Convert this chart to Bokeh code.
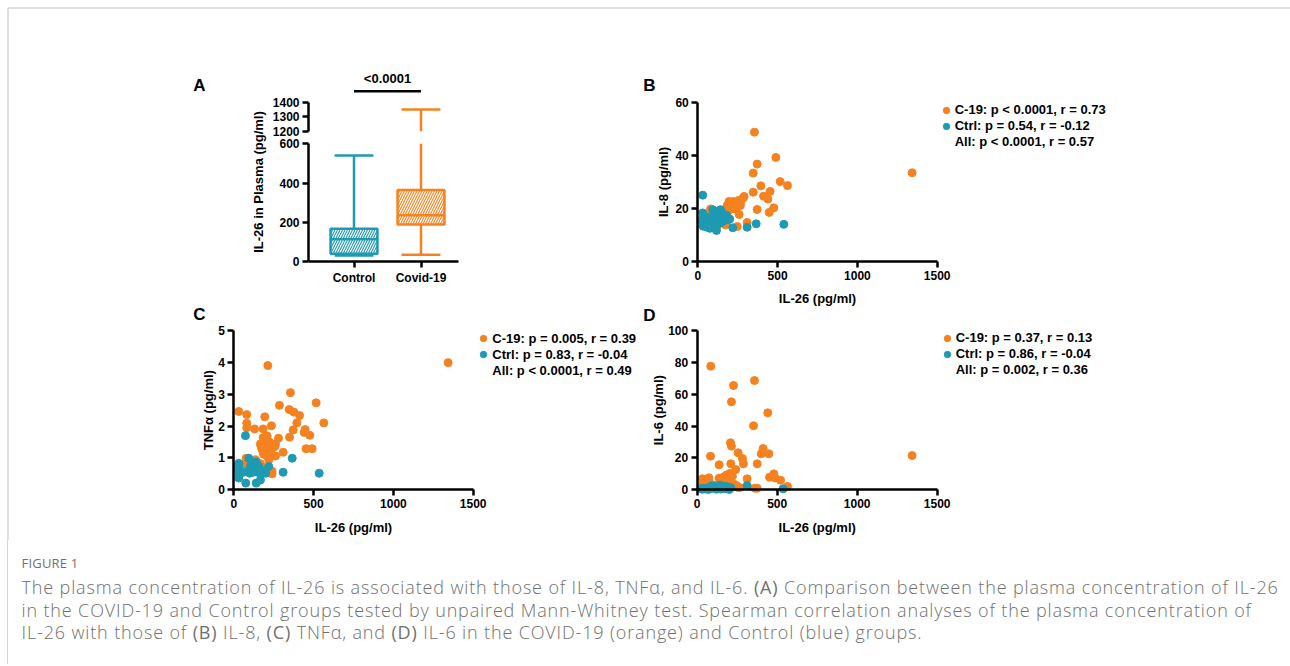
from math import pi
from bokeh.plotting import figure
from bokeh.models import Range1d, LinearAxis, FixedTicker, Label, Legend, LegendItem, Div
from bokeh.layouts import column
from bokeh.embed import file_html
from bokeh.resources import INLINE

# ---------------- data ----------------
groups = ["Control", "Covid-19"]
a_min = [30, 34]
a_q1 = [39, 188]
a_median = [113, 236]
a_q3 = [167, 364]
a_max = [540, 1350]
a_pvalue = "<0.0001"

b_c19_x = [355, 489, 372, 347, 516, 562, 395, 453, 347, 412, 439, 476, 372, 447, 284, 267, 195, 222, 247, 184,
           212, 242, 267, 205, 237, 190, 163, 259, 80, 100, 59, 174, 247, 309, 80, 142, 122, 48, 1343, 230,
           255, 200, 170, 150, 60, 120, 290, 216, 180, 100]
b_c19_y = [48.7, 39.2, 36.7, 33.3, 30.1, 28.6, 28.5, 26.4, 26.1, 24.6, 23.5, 20.2, 19.6, 18.5, 23.9, 22.3, 22.6, 22.6, 22.3, 21.1,
           21.1, 20.7, 21.1, 19.8, 19.8, 18.9, 19.2, 17.7, 19.8, 17.7, 15.4, 13.8, 13.2, 14.7, 14.2, 15.4, 16.7, 17.6, 33.4, 21.5,
           23.0, 20.5, 17.5, 14.5, 13.5, 13.3, 24.5, 20.0, 16.0, 14.8]
b_ctrl_x = [31, 31, 31, 31, 31, 34, 94, 121, 86, 117, 219, 309, 366, 539, 127, 148, 169, 190, 158, 106,
            137, 179, 80, 69, 59, 142, 200, 110, 130, 160, 90, 75, 185, 150]
b_ctrl_y = [25.0, 18.3, 16.1, 14.9, 13.6, 13.3, 19.5, 18.9, 13.2, 11.7, 12.7, 12.9, 14.2, 14.0, 16.7, 16.1, 16.5, 15.7, 15.1, 15.4,
            14.4, 17.4, 15.4, 16.6, 12.9, 19.5, 16.0, 17.5, 15.0, 17.0, 14.0, 12.5, 16.2, 18.5]
b_legend = ["C-19: p < 0.0001, r = 0.73", "Ctrl: p = 0.54, r = -0.12", "All: p < 0.0001, r = 0.57"]

c_c19_x = [1343, 213, 355, 516, 31, 286, 347, 376, 412, 81, 194, 564, 395, 81, 81, 130, 184, 236, 372, 447,
           441, 476, 209, 184, 280, 349, 167, 261, 257, 453, 491, 309, 176, 196, 217, 186, 207, 228, 261, 196,
           223, 170, 232, 77, 75, 136, 167, 176, 240, 240, 88, 172, 194, 219]
c_c19_y = [3.99, 3.90, 3.05, 2.73, 2.46, 2.65, 2.52, 2.44, 2.33, 2.36, 2.29, 2.10, 2.10, 2.09, 1.95, 1.91, 1.91, 2.01, 1.88, 1.89,
           1.80, 1.71, 1.69, 1.64, 1.62, 1.65, 1.44, 1.44, 1.36, 1.29, 1.29, 1.18, 1.27, 1.21, 1.27, 1.12, 1.07, 1.07, 1.06, 1.42,
           1.50, 1.38, 1.17, 0.99, 0.81, 0.94, 0.82, 0.71, 0.58, 0.50, 0.69, 0.69, 0.61, 0.94]
c_ctrl_x = [73, 31, 31, 31, 31, 31, 31, 31, 94, 366, 140, 219, 100, 140, 165, 186, 125, 157, 309, 535,
            75, 140, 167, 110, 120, 150, 176, 200, 90, 105, 130, 60]
c_ctrl_y = [1.70, 0.83, 0.70, 0.58, 0.47, 0.37, 0.76, 0.64, 0.99, 0.99, 0.87, 0.73, 0.52, 0.58, 0.50, 0.55, 0.70, 0.73, 0.55, 0.52,
            0.21, 0.21, 0.31, 0.62, 0.55, 0.65, 0.60, 0.52, 0.60, 0.75, 0.80, 0.55]
c_legend = ["C-19: p = 0.005, r = 0.39", "Ctrl: p = 0.83, r = -0.04", "All: p < 0.0001, r = 0.49"]

d_c19_x = [85, 227, 358, 214, 441, 352, 208, 214, 412, 400, 448, 83, 256, 283, 375, 137, 210, 289, 241, 312,
           33, 73, 137, 166, 183, 204, 452, 479, 487, 521, 564, 33, 245, 266, 360, 375, 146, 190, 175, 230,
           255, 200, 80, 120, 1343, 160, 220]
d_c19_y = [77.6, 65.5, 68.6, 55.2, 48.3, 40.2, 29.5, 27.4, 25.9, 22.6, 22.6, 21.1, 23.2, 19.6, 16.3, 15.7, 16.3, 16.3, 12.7, 6.9,
           6.9, 7.5, 7.3, 8.1, 9.3, 10.3, 7.9, 10.0, 7.4, 6.0, 2.1, 3.8, 2.6, 1.4, 1.0, 1.0, 1.0, 6.0, 4.0, 3.5,
           1.5, 2.0, 4.0, 3.0, 21.5, 5.5, 8.5]
d_ctrl_x = [33, 100, 146, 183, 312, 537, 31, 60, 80, 90, 110, 120, 130, 150, 160, 170, 190, 200, 210, 70,
            140, 175, 50, 95, 125]
d_ctrl_y = [1.0, 2.2, 0.5, 2.0, 2.7, 0.6, 0.3, 1.2, 0.8, 2.5, 1.5, 0.4, 1.8, 1.0, 2.3, 0.6, 0.9, 0.2, 1.3, 0.2,
            2.8, 1.6, 0.5, 1.0, 0.9]
d_legend = ["C-19: p = 0.37, r = 0.13", "Ctrl: p = 0.86, r = -0.04", "All: p = 0.002, r = 0.36"]

x_ticks = [0, 500, 1000, 1500]
b_y_ticks = [0, 20, 40, 60]
c_y_ticks = [0, 1, 2, 3, 4, 5]
d_y_ticks = [0, 20, 40, 60, 80, 100]
a_low_ticks = [0, 200, 400, 600]
a_high_ticks = [1200, 1300, 1400]

caption_title = "FIGURE 1"
caption_lines = [
    "The plasma concentration of IL-26 is associated with those of IL-8, TNF\u03b1, and IL-6. <b>(A)</b> Comparison between the plasma concentration of IL-26",
    "in the COVID-19 and Control groups tested by unpaired Mann-Whitney test. Spearman correlation analyses of the plasma concentration of",
    "IL-26 with those of <b>(B)</b> IL-8, <b>(C)</b> TNF\u03b1, and <b>(D)</b> IL-6 in the COVID-19 (orange) and Control (blue) groups.",
]

# ---------------- style / layout ----------------
ORANGE = "#F5821F"
BLUE = "#1E9AB2"
FRAME = "#d4d4d4"
FONT = "Liberation Sans"
W, H = 1290, 540
CAP_H = 124


def xr(v0, p0, v1, p1):
    k = (p1 - p0) / (v1 - v0)
    return Range1d(v0 - p0 / k, v0 + (W - p0) / k)


def yr(v0, p0, v1, p1):
    k = (p0 - p1) / (v1 - v0)
    return Range1d(v0 - (H - p0) / k, v0 + p0 / k)


def sx(px):
    return px


def sy(py):
    return H - py


p = figure(width=W, height=H, output_backend="svg", toolbar_location=None, title=None,
           x_axis_location=None, y_axis_location=None, min_border=0,
           x_range=Range1d(0, W), y_range=Range1d(0, H), outline_line_color=None)
p.grid.visible = False
p.background_fill_color = "white"
p.border_fill_color = "white"

# page frame (top and left rules)
p.segment(x0=[7.5, 7.5], y0=[sy(7.5), sy(7.5)], x1=[W, 7.5], y1=[sy(7.5), 0],
          line_color=FRAME, line_width=1.5)

# panel A pixel anchors
A_C0, A_C1 = 353.5, 420.5
A_LEFT, A_RIGHT = 308.0, 458.0
A_HALF = 0.35
A_CAP = 0.29
BREAK_LOW, BREAK_HIGH = 600, 1200

p.extra_x_ranges = {
    "ax": xr(0, A_C0, 1, A_C1),
    "bx": xr(0, 697.3, 1500, 936.7),
    "cx": xr(0, 233.3, 1500, 472.7),
    "dx": xr(0, 696.7, 1500, 936.7),
}
p.extra_y_ranges = {
    "al": yr(0, 261.0, 600, 143.3),
    "au": yr(1200, 130.7, 1400, 101.7),
    "by": yr(0, 261.0, 60, 101.7),
    "cy": yr(0, 489.3, 5, 330.0),
    "dy": yr(0, 489.3, 100, 330.0),
}
a_x0 = (A_LEFT - A_C0) / (A_C1 - A_C0)
a_x1 = (A_RIGHT - A_C0) / (A_C1 - A_C0)


def axis(side, xn, yn, loc, bounds, ticks, overrides=None):
    a = LinearAxis(x_range_name=xn, y_range_name=yn, fixed_location=loc, bounds=bounds,
                   ticker=FixedTicker(ticks=ticks, minor_ticks=[]),
                   axis_line_width=2.5, axis_line_color="black",
                   major_tick_line_width=2.5, major_tick_line_color="black",
                   major_tick_in=0, major_tick_out=6,
                   minor_tick_line_color=None, major_label_standoff=3,
                   major_label_text_font=FONT, major_label_text_font_style="bold",
                   major_label_text_font_size="12px", major_label_text_color="black")
    if overrides:
        a.major_label_overrides = overrides
    p.add_layout(a, side)


def label(px, py, text, size="13px", angle=0.0):
    p.add_layout(Label(x=sx(px), y=sy(py), x_units="screen", y_units="screen", text=text,
                       text_font=FONT, text_font_style="bold", text_font_size=size,
                       text_align="center", text_baseline="middle", angle=angle,
                       text_color="black"))


# ---------- Panel A ----------
idx = list(range(len(groups)))
colors = [BLUE, ORANGE]
axis("below", "ax", "al", 0, (a_x0, a_x1), idx, {i: g for i, g in enumerate(groups)})
axis("left", "ax", "al", a_x0, (0, BREAK_LOW), a_low_ticks)
axis("left", "ax", "au", a_x0, (BREAK_HIGH, 1400), a_high_ticks)

p.quad(left=[i - A_HALF for i in idx], right=[i + A_HALF for i in idx], bottom=a_q1, top=a_q3,
       fill_color="white", line_color=colors, line_width=2.5, hatch_pattern="/",
       hatch_color=colors, hatch_scale=5, hatch_weight=1.1,
       x_range_name="ax", y_range_name="al")
p.segment(x0=[i - A_HALF for i in idx], x1=[i + A_HALF for i in idx], y0=a_median, y1=a_median,
          line_color=colors, line_width=2.5, x_range_name="ax", y_range_name="al")
p.segment(x0=idx, x1=idx, y0=a_min, y1=a_q1, line_color=colors, line_width=2.5,
          x_range_name="ax", y_range_name="al")
p.segment(x0=[i - A_CAP for i in idx], x1=[i + A_CAP for i in idx], y0=a_min, y1=a_min,
          line_color=colors, line_width=2.5, x_range_name="ax", y_range_name="al")
lo_x, lo_y0, lo_y1, lo_c = [], [], [], []
hi_x, hi_y0, hi_y1, hi_c = [], [], [], []
cap_lo_x, cap_lo_y, cap_lo_c, cap_hi_x, cap_hi_y, cap_hi_c = [], [], [], [], [], []
for i in idx:
    if a_max[i] > BREAK_HIGH:
        lo_x.append(i); lo_y0.append(a_q3[i]); lo_y1.append(BREAK_LOW); lo_c.append(colors[i])
        hi_x.append(i); hi_y0.append(BREAK_HIGH); hi_y1.append(a_max[i]); hi_c.append(colors[i])
        cap_hi_x.append(i); cap_hi_y.append(a_max[i]); cap_hi_c.append(colors[i])
    else:
        lo_x.append(i); lo_y0.append(a_q3[i]); lo_y1.append(a_max[i]); lo_c.append(colors[i])
        cap_lo_x.append(i); cap_lo_y.append(a_max[i]); cap_lo_c.append(colors[i])
p.segment(x0=lo_x, x1=lo_x, y0=lo_y0, y1=lo_y1, line_color=lo_c, line_width=2.5,
          x_range_name="ax", y_range_name="al")
p.segment(x0=hi_x, x1=hi_x, y0=hi_y0, y1=hi_y1, line_color=hi_c, line_width=2.5,
          x_range_name="ax", y_range_name="au")
p.segment(x0=[x - A_CAP for x in cap_lo_x], x1=[x + A_CAP for x in cap_lo_x], y0=cap_lo_y, y1=cap_lo_y,
          line_color=cap_lo_c, line_width=2.5, x_range_name="ax", y_range_name="al")
p.segment(x0=[x - A_CAP for x in cap_hi_x], x1=[x + A_CAP for x in cap_hi_x], y0=cap_hi_y, y1=cap_hi_y,
          line_color=cap_hi_c, line_width=2.5, x_range_name="ax", y_range_name="au")
sig_y = 1400 + (101.7 - 90.7) / ((130.7 - 101.7) / 200)
p.segment(x0=[idx[0]], x1=[idx[-1]], y0=[sig_y], y1=[sig_y], line_color="black", line_width=2.5,
          x_range_name="ax", y_range_name="au")
label(387, 78, a_pvalue, "13px")
label(199, 85, "A", "17px")
label(258, 181.5, "IL-26 in Plasma (pg/ml)", "13px", pi / 2)

ROW = 16


# ---------- scatter panels ----------
def scatter_panel(xn, yn, xs_o, ys_o, xs_b, ys_b, yticks, letter, letter_xy,
                  ylab, ylab_xy, xlab_xy, legend_labels, dot_x, first_row_y):
    axis("below", xn, yn, 0, (0, 1500), x_ticks)
    axis("left", xn, yn, 0, (yticks[0], yticks[-1]), yticks)
    ro = p.scatter(xs_o, ys_o, size=8, color=ORANGE, x_range_name=xn, y_range_name=yn)
    rb = p.scatter(xs_b, ys_b, size=8, color=BLUE, x_range_name=xn, y_range_name=yn)
    rn = p.scatter([], [], size=8, fill_alpha=0, line_alpha=0, x_range_name=xn, y_range_name=yn)
    label(letter_xy[0], letter_xy[1], letter, "17px")
    label(ylab_xy[0], ylab_xy[1], ylab, "13px", pi / 2)
    label(xlab_xy[0], xlab_xy[1], "IL-26 (pg/ml)", "13px")
    items = [LegendItem(label=t, renderers=[r]) for t, r in zip(legend_labels, [ro, rb, rn])]
    leg_h = 3 * ROW
    top = first_row_y - ROW / 2
    lg = Legend(items=items, location=(sx(dot_x - ROW / 2), sy(top + leg_h)),
                orientation="vertical", padding=0, margin=0, spacing=0,
                glyph_width=ROW, glyph_height=ROW, label_height=ROW, label_standoff=1,
                label_text_font=FONT, label_text_font_style="bold", label_text_font_size="13px",
                label_text_color="black", border_line_alpha=0, background_fill_alpha=0)
    p.add_layout(lg, "center")


scatter_panel("bx", "by", b_c19_x, b_c19_y, b_ctrl_x, b_ctrl_y, b_y_ticks,
              "B", (649, 84.5), "IL-8 (pg/ml)", (663.3, 181.5), (817, 298.3), b_legend, 945.7, 109.5)
scatter_panel("cx", "cy", c_c19_x, c_c19_y, c_ctrl_x, c_ctrl_y, c_y_ticks,
              "C", (199, 314), "TNF\u03b1 (pg/ml)", (208.3, 409.7), (353, 526.6), c_legend, 483.3, 338)
scatter_panel("dx", "dy", d_c19_x, d_c19_y, d_ctrl_x, d_ctrl_y, d_y_ticks,
              "D", (649, 314.5), "IL-6 (pg/ml)", (658.3, 409.7), (816.7, 526.6), d_legend, 946.7, 337.5)

# ---------- caption ----------
cap_html = (
    '<div style="margin-left:7px;border-left:1.5px solid ' + FRAME + ';padding-left:13.5px;height:'
    + str(CAP_H) + 'px;box-sizing:border-box;font-family:\'Open Sans\',sans-serif;color:#707070;white-space:nowrap;">'
    '<div style="font-size:13px;line-height:18px;padding-top:14px;letter-spacing:0.2px;">' + caption_title + '</div>'
    '<div style="font-size:18px;line-height:22.5px;margin-top:4px;letter-spacing:0.86px;font-weight:300;">'
    + "<br>".join(caption_lines) + '</div></div>'
)
cap = Div(text=cap_html, width=W, height=CAP_H, margin=0)

root = column(p, cap)
open("out.html", "w").write(file_html(root, INLINE))
